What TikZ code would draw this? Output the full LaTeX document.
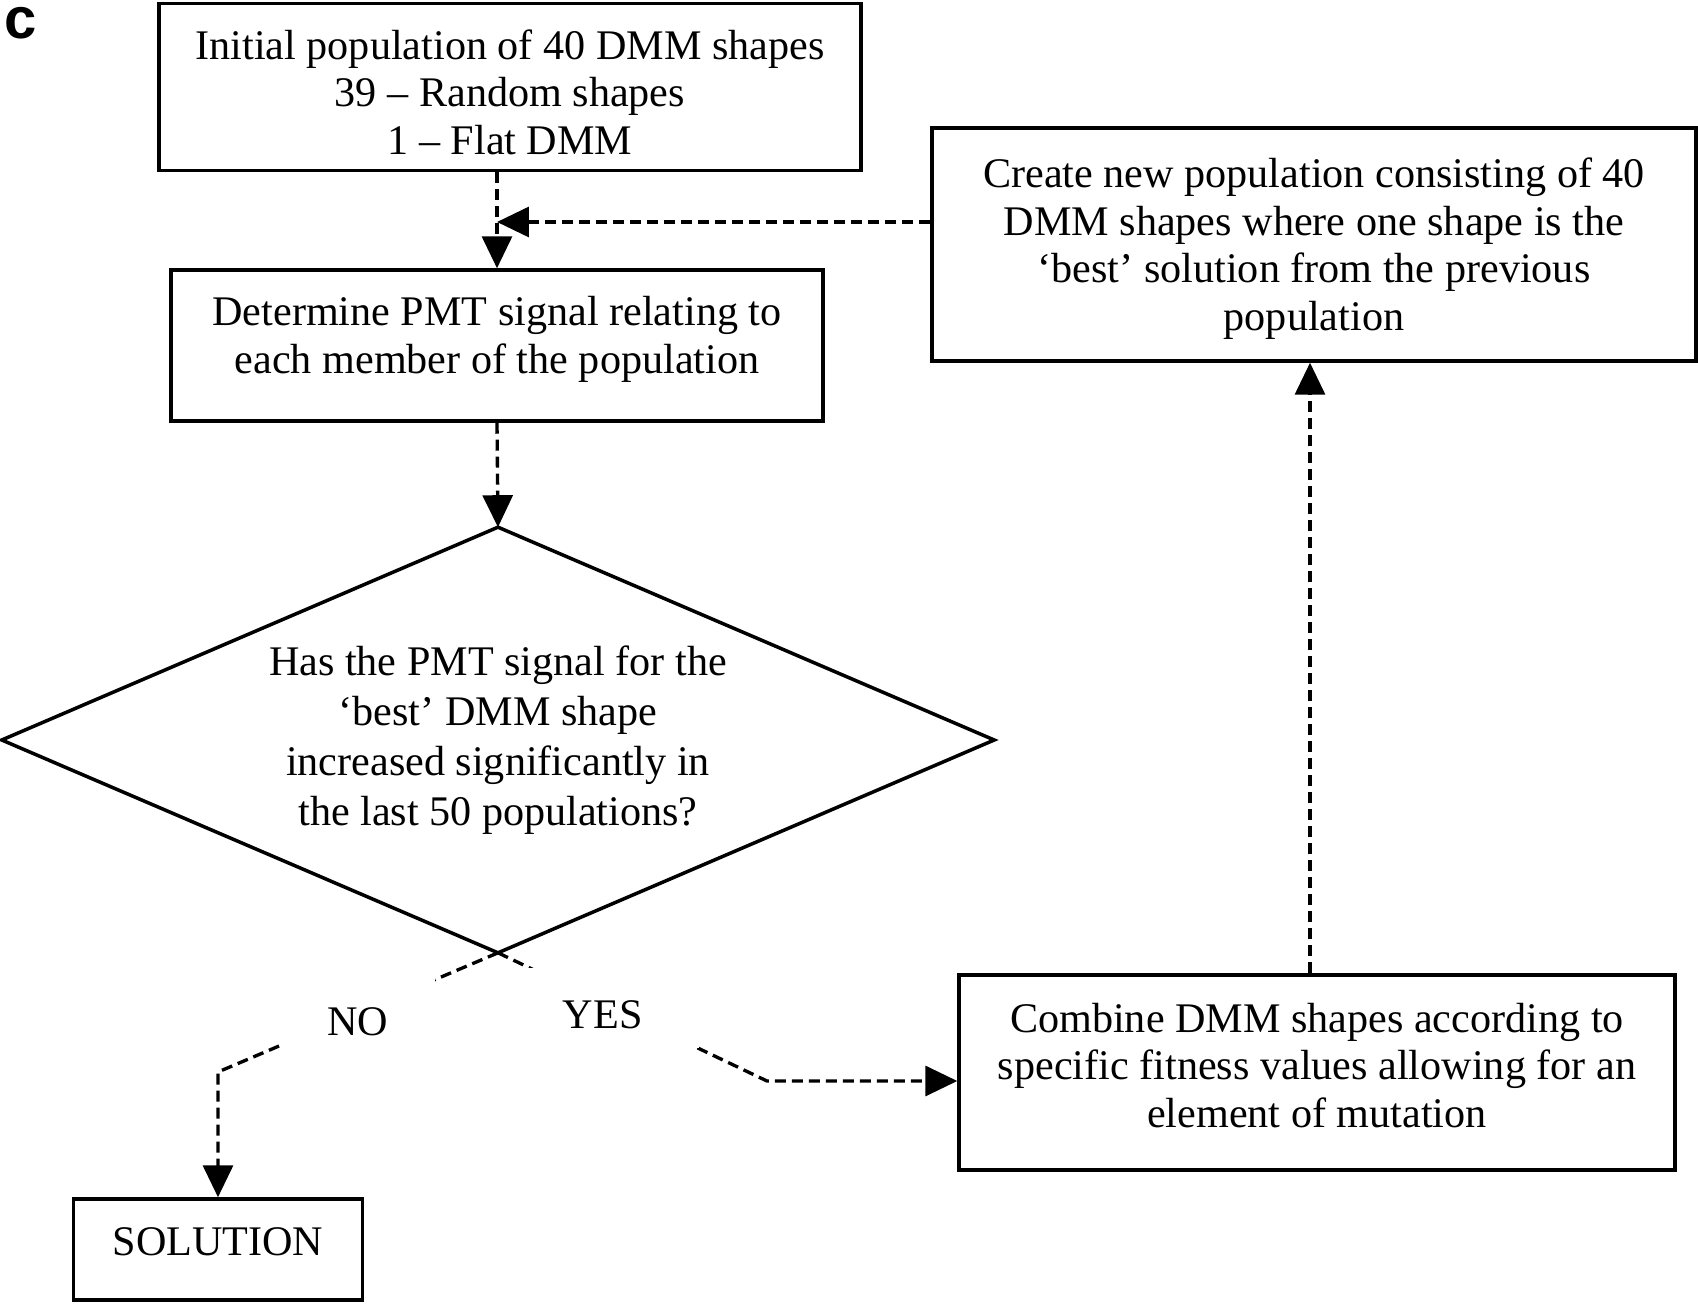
\documentclass[tikz,border=0pt]{standalone}
\usepackage{fontspec}
\setmainfont{Liberation Serif}
\newfontfamily\labelfont{Liberation Sans}
\usetikzlibrary{arrows.meta}
\begin{document}
\begin{tikzpicture}[x=0.02cm,y=-0.02cm,
  box/.style={draw, line width=2pt, rectangle, align=center, inner sep=0pt, font=\fontsize{24}{27.1}\selectfont},
  conn/.style={line width=1.9pt, dash pattern=on 0.22cm off 0.12cm},
  tip/.style={-{Triangle[length=0.64cm,width=0.6cm]}},
  lbl/.style={fill=white, inner sep=0pt, font=\fontsize{24}{27}\selectfont}]
\useasboundingbox (0,0) rectangle (1698,1304);
\node[inner sep=0pt, font=\labelfont\bfseries\fontsize{33}{33}\selectfont] (lab) at (21,23) {c};
\node[box, minimum width=14.04cm, minimum height=3.34cm] (init) at (510,87)
  {\rule{0pt}{0.8cm}Initial population of 40 DMM shapes\\39 -- Random shapes\\1 -- Flat DMM};
\node[box, minimum width=13.04cm, minimum height=3.02cm] (det) at (497,345.5)
  {Determine PMT signal relating to\\each member of the population\rule[-0.42cm]{0pt}{0.42cm}};
\node[box, minimum width=15.28cm, minimum height=4.66cm] (create) at (1314,244.5)
  {\rule{0pt}{0.76cm}Create new population consisting of 40\\DMM shapes where one shape is the\\`best' solution from the previous\\population};
\node[align=center, inner sep=0pt, minimum width=19.84cm, minimum height=8.5cm,
  font=\fontsize{24}{28.5}\selectfont] (dec) at (498,740)
  {Has the PMT signal for the\\`best' DMM shape\\increased significantly in\\the last 50 populations?};
\draw[line width=2pt, line join=miter] (dec.north) -- (dec.east) -- (dec.south) -- (dec.west) -- cycle;
\node[box, minimum width=5.78cm, minimum height=2.02cm] (sol) at (218,1249.5) {SOLUTION\rule[-0.3cm]{0pt}{0.3cm}};
\node[box, minimum width=14.32cm, minimum height=3.9cm] (comb) at (1317,1072.5)
  {Combine DMM shapes according to\\specific fitness values allowing for an\\element of mutation\rule[-0.3cm]{0pt}{0.3cm}};
\coordinate (jn) at (497,222);
\coordinate (nocorner) at (218,1072);
\coordinate (yescorner) at (767,1081);
\coordinate (vx) at (1310,0);
\draw[conn,tip] (init.south -| det.north) -- (det.north);
\draw[conn,tip] (create.west |- jn) -- (jn);
\draw[conn,tip] (det.south) -- (dec.north);
\draw[conn,tip] (dec.south) -- node[lbl, pos=0.5, minimum width=3.1cm, minimum height=1.5cm] (no) {\rule{0pt}{0.92cm}NO} (nocorner) -- (sol.north);
\draw[conn,tip] (dec.south) -- node[lbl, pos=0.43, minimum width=3.42cm, minimum height=1.6cm] (yes) {\rule{0pt}{0.83cm}YES\rule{0.44cm}{0pt}} (yescorner) -- (comb.west |- yescorner);
\draw[conn,tip] (comb.north -| vx) -- (create.south -| vx);
\end{tikzpicture}
\end{document}
